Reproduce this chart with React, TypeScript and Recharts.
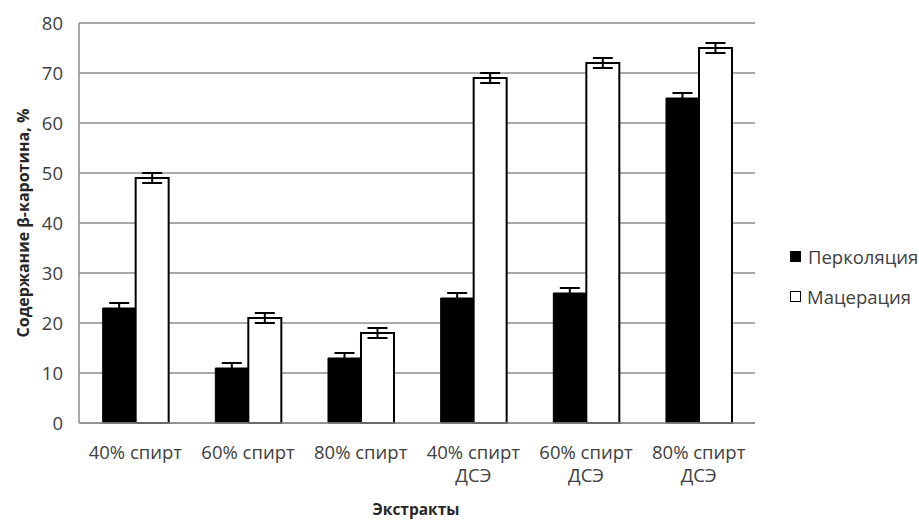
import React from "react";
import { BarChart, Bar, XAxis, YAxis, CartesianGrid, ErrorBar, Label } from "recharts";

const categories = ["40% спирт", "60% спирт", "80% спирт", "40% спирт|ДСЭ", "60% спирт|ДСЭ", "80% спирт|ДСЭ"];
const percolation = [23, 11, 13, 25, 26, 65];
const maceration = [49, 21, 18, 69, 72, 75];
const percolationErr = [1, 1, 1, 1, 1, 1];
const macerationErr = [1, 1, 1, 1, 1, 1];
const yTicks = [0, 10, 20, 30, 40, 50, 60, 70, 80];
const seriesNames = ["Перколяция", "Мацерация"];

const data = categories.map((c, i) => ({
  name: c,
  perc: percolation[i],
  mac: maceration[i],
  percErr: percolationErr[i],
  macErr: macerationErr[i],
}));

const FONT = "'Open Sans', sans-serif";

const XTick = (props: any) => {
  const { x, y, payload } = props;
  const lines = String(payload.value).split("|");
  return (
    <g transform={`translate(${x},${y})`}>
      {lines.map((l: string, i: number) => (
        <text key={i} x={0} y={28 + i * 23} textAnchor="middle" fill="#404040" fontSize={18.5} fontFamily={FONT}>
          {l}
        </text>
      ))}
    </g>
  );
};

const LegendBox = () => (
  <div style={{ position: "absolute", left: 790, top: 245, fontFamily: FONT, fontSize: 18.5, color: "#404040" }}>
    <div style={{ display: "flex", alignItems: "center", height: 22, marginBottom: 18, whiteSpace: "nowrap" }}>
      <span style={{ width: 11, height: 11, background: "#000", display: "inline-block", marginRight: 7, flex: "none" }} />
      {seriesNames[0]}
    </div>
    <div style={{ display: "flex", alignItems: "center", height: 22, whiteSpace: "nowrap" }}>
      <span style={{ width: 9, height: 9, border: "1.5px solid #000", background: "#fff", display: "inline-block", marginRight: 6, flex: "none" }} />
      {seriesNames[1]}
    </div>
  </div>
);

export default function App() {
  return (
    <div style={{ position: "absolute", left: 0, top: 0, width: 919, height: 520, background: "#fff", overflow: "hidden" }}>
      <BarChart
        width={919}
        height={520}
        data={data}
        margin={{ top: 23, right: 164, left: 0, bottom: 0 }}
        barCategoryGap="21%"
        barGap={0}
      >
        <CartesianGrid vertical={false} stroke="#8c8c8c" strokeWidth={1.5} />
        <XAxis
          dataKey="name"
          height={97}
          tick={<XTick />}
          tickLine={false}
          axisLine={{ stroke: "#8c8c8c", strokeWidth: 1.5 }}
          interval={0}
        >
          <Label
            content={() => (
              <text x={416} y={515} textAnchor="middle" fontWeight="bold" fontSize={15.5} fill="#262626" fontFamily={FONT}>
                Экстракты
              </text>
            )}
          />
        </XAxis>
        <YAxis
          width={79}
          domain={[0, 80]}
          ticks={yTicks}
          tickLine={false}
          axisLine={{ stroke: "#8c8c8c", strokeWidth: 1.5 }}
          tick={{ fill: "#404040", fontSize: 18.5, fontFamily: FONT }}
          tickMargin={10}
        >
          <Label
            content={() => (
              <text
                x={23}
                y={223}
                transform="rotate(-90 23 223)"
                textAnchor="middle"
                dominantBaseline="central"
                fontWeight="bold"
                fontSize={16}
                fill="#262626"
                fontFamily={FONT}
              >
                Содержание β-каротина, %
              </text>
            )}
          />
        </YAxis>
        <Bar dataKey="perc" name={seriesNames[0]} fill="#000" stroke="#000" strokeWidth={1} isAnimationActive={false}>
          <ErrorBar dataKey="percErr" width={10} stroke="#000" strokeWidth={2} />
        </Bar>
        <Bar dataKey="mac" name={seriesNames[1]} fill="#fff" stroke="#000" strokeWidth={2} isAnimationActive={false}>
          <ErrorBar dataKey="macErr" width={10} stroke="#000" strokeWidth={2} />
        </Bar>
      </BarChart>
      <LegendBox />
    </div>
  );
}
